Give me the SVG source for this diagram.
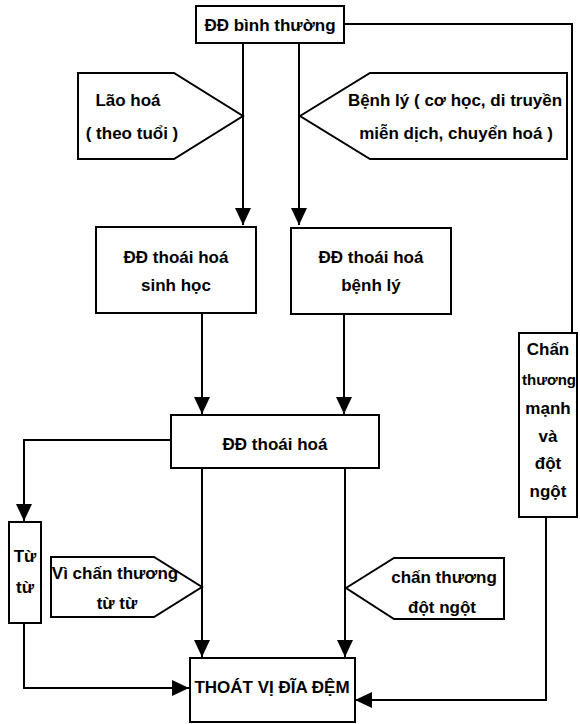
<svg xmlns="http://www.w3.org/2000/svg" width="580" height="724" viewBox="0 0 580 724">
<style>
.box{fill:#fff;stroke:#000;stroke-width:2}
.ln{fill:none;stroke:#000;stroke-width:2}
text{font-family:"Liberation Sans",Arial,sans-serif;font-weight:bold;font-size:17px;fill:#000;text-anchor:middle;dominant-baseline:central}
</style>
<defs>
<marker id="ah" markerUnits="userSpaceOnUse" markerWidth="18" markerHeight="18" refX="17" refY="8" orient="auto">
<path d="M0,0 L17,8 L0,16 Z" fill="#000"/>
</marker>
</defs>
<rect width="580" height="724" fill="#fff"/>
<g id="connectors">
<path class="ln" d="M243,43 V225" marker-end="url(#ah)"/>
<path class="ln" d="M299,43 V225" marker-end="url(#ah)"/>
<path class="ln" d="M344,24 H572 V333"/>
<path class="ln" d="M202,313 V414" marker-end="url(#ah)"/>
<path class="ln" d="M344,314 V414" marker-end="url(#ah)"/>
<path class="ln" d="M171,440 H24 V521" marker-end="url(#ah)"/>
<path class="ln" d="M202,468 V657" marker-end="url(#ah)"/>
<path class="ln" d="M345,468 V657" marker-end="url(#ah)"/>
<path class="ln" d="M24,623 V688 H189" marker-end="url(#ah)"/>
<path class="ln" d="M546,517 V700 H355" marker-end="url(#ah)"/>
</g>
<g id="n-binhthuong">
<rect class="box" x="196" y="6" width="148" height="37"/>
<text x="270" y="25">ĐĐ bình thường</text>
</g>
<g id="n-laohoa">
<path class="box" d="M78,73 H174 L243,116 L174,159 H78 Z"/>
<text x="128" y="100">Lão hoá</text>
<text x="132" y="133">( theo tuổi )</text>
</g>
<g id="n-benhly">
<path class="box" d="M300,116 L370,73 H567 V159 H370 Z"/>
<text x="455" y="100">Bệnh lý ( cơ học, di truyền</text>
<text x="456" y="133">miễn dịch, chuyển hoá )</text>
</g>
<g id="n-sinhhoc">
<rect class="box" x="96" y="227" width="160" height="86"/>
<text x="176" y="257">ĐĐ thoái hoá</text>
<text x="176" y="285">sinh học</text>
</g>
<g id="n-thbenhly">
<rect class="box" x="291" y="228" width="160" height="86"/>
<text x="371" y="257">ĐĐ thoái hoá</text>
<text x="371" y="285">bệnh lý</text>
</g>
<g id="n-thoaihoa">
<rect class="box" x="171" y="415" width="208" height="53"/>
<text x="275" y="444">ĐĐ thoái hoá</text>
</g>
<g id="n-chanthuong">
<rect class="box" x="519" y="333" width="58" height="184"/>
<text x="548" y="349">Chấn</text>
<text x="549" y="379" style="font-size:15px">thương</text>
<text x="548" y="408">mạnh</text>
<text x="548" y="436">và</text>
<text x="548" y="463">đột</text>
<text x="548" y="491">ngột</text>
</g>
<g id="n-tutu">
<rect class="box" x="9" y="522" width="32" height="101"/>
<text x="25" y="556">Từ</text>
<text x="25" y="587">từ</text>
</g>
<g id="n-vichanthuong">
<path class="box" d="M51,557 H154 L202,587 L154,617 H51 Z"/>
<text x="115" y="573">Vì chấn thương</text>
<text x="117" y="603">từ từ</text>
</g>
<g id="n-dotngot">
<path class="box" d="M346,588 L394,558 H504 V619 H394 Z"/>
<text x="444" y="577">chấn thương</text>
<text x="442" y="607">đột ngột</text>
</g>
<g id="n-thoatvi">
<rect class="box" x="190" y="658" width="165" height="64"/>
<text x="272" y="687">THOÁT VỊ ĐĨA ĐỆM</text>
</g>
</svg>
